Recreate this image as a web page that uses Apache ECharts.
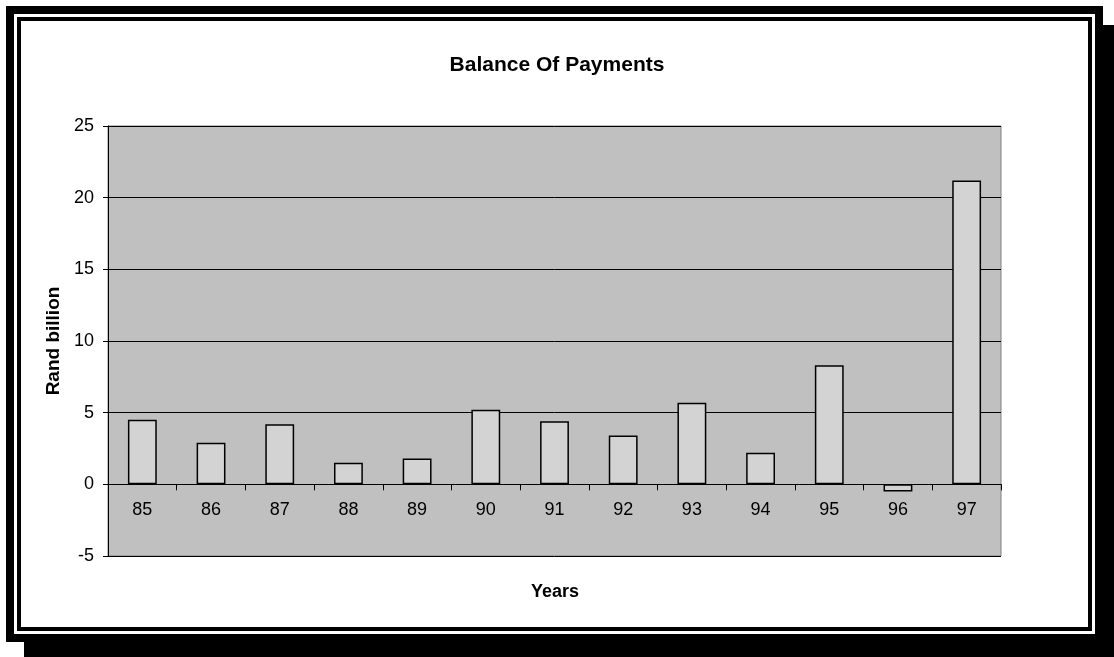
<!DOCTYPE html>
<html>
<head>
<meta charset="utf-8">
<script src="https://cdn.jsdelivr.net/npm/echarts@6/dist/echarts.min.js"></script>
<style>
  html, body { margin: 0; padding: 0; background: #fff; }
  #chart { width: 1114px; height: 657px; }
</style>
</head>
<body>
<div id="chart"></div>
<script>
// Balance of payments by year, rand billion
const years = ['85', '86', '87', '88', '89', '90', '91', '92', '93', '94', '95', '96', '97'];
const balance = [4.5, 2.9, 4.2, 1.5, 1.8, 5.2, 4.4, 3.4, 5.7, 2.2, 8.3, -0.5, 21.2];
const yTicks = { min: -5, max: 25, step: 5 };

const FONT = 'Liberation Sans, Arial, sans-serif';
const GRID = { left: 108, right: 113, top: 126, bottom: 101 };
const plotHeight = 657 - GRID.top - GRID.bottom;
// distance from the bottom of the plot up to the zero line
const zeroLift = plotHeight * (0 - yTicks.min) / (yTicks.max - yTicks.min);

const chart = echarts.init(document.getElementById('chart'), null, { renderer: 'canvas' });

chart.setOption({
  backgroundColor: '#ffffff',
  animation: false,
  textStyle: { fontFamily: FONT },
  graphic: [
    // drop shadow behind the frame
    { type: 'rect', z: -10, shape: { x: 24, y: 25, width: 1100, height: 640 }, style: { fill: '#000' } },
    // thick outer frame
    { type: 'rect', z: -9, shape: { x: 6, y: 6, width: 1097, height: 636 }, style: { fill: '#000' } },
    { type: 'rect', z: -8, shape: { x: 14, y: 14, width: 1081, height: 620 }, style: { fill: '#fff' } },
    // thin inner border
    { type: 'rect', z: -7, shape: { x: 19, y: 19, width: 1071, height: 610 }, style: { fill: 'none', stroke: '#000', lineWidth: 4 } }
  ],
  title: [
    {
      text: 'Balance Of Payments',
      left: 'center',
      top: 50,
      textStyle: { fontFamily: FONT, fontSize: 21, fontWeight: 'bold', color: '#000' }
    },
    {
      text: 'Years',
      left: 526,
      top: 578,
      textStyle: { fontFamily: FONT, fontSize: 18, fontWeight: 'bold', color: '#000' }
    }
  ],
  grid: Object.assign({
    show: true,
    backgroundColor: '#c0c0c0',
    borderColor: '#808080',
    borderWidth: 1
  }, GRID),
  xAxis: [
    {
      // axis line and ticks along the zero line
      type: 'category',
      data: years,
      axisLine: { onZero: true, lineStyle: { color: '#000', width: 1 } },
      axisTick: { show: true, inside: false, length: 6, alignWithLabel: false, lineStyle: { color: '#000' } },
      axisLabel: { show: false },
      splitLine: { show: false }
    },
    {
      // year labels hanging just below the zero line
      type: 'category',
      data: years,
      position: 'bottom',
      offset: -zeroLift,
      axisLine: { show: false },
      axisTick: { show: false },
      axisLabel: { fontFamily: FONT, fontSize: 18, color: '#000', margin: 17 },
      splitLine: { show: false }
    }
  ],
  yAxis: {
    type: 'value',
    min: yTicks.min,
    max: yTicks.max,
    interval: yTicks.step,
    name: 'Rand billion',
    nameLocation: 'middle',
    nameGap: 40,
    nameRotate: 90,
    nameTextStyle: { fontFamily: FONT, fontSize: 19, fontWeight: 'bold', color: '#000' },
    axisLine: { show: true, lineStyle: { color: '#000', width: 1 } },
    axisTick: { show: true, length: 5, lineStyle: { color: '#000' } },
    axisLabel: { fontFamily: FONT, fontSize: 18, color: '#000', margin: 14 },
    splitLine: { show: true, lineStyle: { color: '#000', width: 1 } }
  },
  series: [
    {
      type: 'bar',
      xAxisIndex: 0,
      data: balance,
      barWidth: '42%',
      itemStyle: { color: '#d3d3d3', borderColor: '#000', borderWidth: 1.5 }
    }
  ]
});
</script>
</body>
</html>
